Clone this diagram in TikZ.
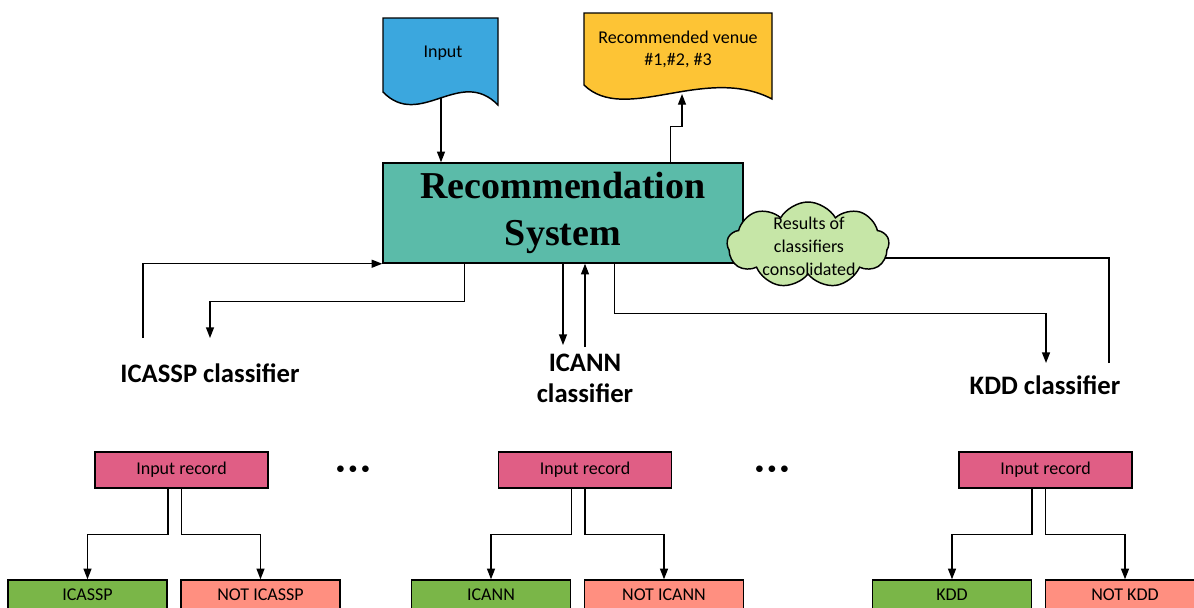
\documentclass[tikz,border=0pt]{standalone}
\usepackage{fontspec}
\setmainfont{Carlito}
\newfontfamily\titlefont{Liberation Serif}
\usetikzlibrary{arrows.meta,calc,shapes.symbols}
\newlength\upx
\setlength\upx{0.75pt}
\definecolor{cblue}{HTML}{3BA7DE}
\definecolor{cyellow}{HTML}{FDC435}
\definecolor{cteal}{HTML}{5BBBA9}
\definecolor{ccloud}{HTML}{C6E6A7}
\definecolor{cpink}{HTML}{E05E85}
\definecolor{cgreen}{HTML}{7AB648}
\definecolor{csalmon}{HTML}{FF8F80}
\begin{document}
\begin{tikzpicture}[x=0.75pt,y=-0.75pt,
  arr/.style={line width=1pt,-{Triangle[length=8pt,width=6pt]}},
  ln/.style={line width=1pt},
  border/.style={draw=black,line width=1.1pt},
  small/.style={font=\fontsize{13.5}{16.5}\selectfont},
  box/.style={border,small,inner sep=0pt},
  irbox/.style={box,fill=cpink,minimum width=173\upx,minimum height=36\upx},
  yesbox/.style={box,fill=cgreen,minimum width=159\upx,minimum height=30\upx},
  nobox/.style={box,fill=csalmon,minimum width=159\upx,minimum height=30\upx},
  lab/.style={font=\fontsize{20}{23.25}\selectfont\bfseries,align=center,inner sep=0pt},
  txt/.style={small,align=center,inner sep=0pt},
  dots/.style={font=\fontsize{14}{14}\selectfont,inner sep=0pt}]
\clip (0,0) rectangle (1194,607);
\fill[white] (0,0) rectangle (1194,607);

% documents
\draw[border,fill=cblue] (383,18) -- (498,18) -- (498,105)
  .. controls (460,66) and (420,130) .. (383,92) -- cycle;
\node[txt] (inp) at (443,53) {Input};
\coordinate (inpb) at (441,98);

\draw[border,fill=cyellow] (584,13) -- (772,13) -- (772,99)
  .. controls (705,64) and (625,125) .. (584,85) -- cycle;
\node[txt] (ven) at (678,49) {Recommended venue\\\#1,\#2, \#3};
\coordinate (venb) at (682,94);

% main box
\node[border,fill=cteal,minimum width=360\upx,minimum height=100\upx,inner sep=0pt,
  align=center,font=\titlefont\bfseries\fontsize{28.5}{35}\selectfont] (rs) at (563,213)
  {Recommendation\\System};

% classifier labels
\node[lab] (icl) at (210,373) {ICASSP classifier};
\node[lab] (cnl) at (585,378.5) {ICANN\\classifier};
\node[lab] (kdl) at (1045,385) {KDD classifier};

\coordinate (icout) at (143,338);
\coordinate (icin) at (210,338);
\coordinate (cnin) at (563,345);
\coordinate (cnout) at (585,347);
\coordinate (kin) at (1046,363);
\coordinate (kout) at (1109,363);

% connectors top
\draw[arr] (inpb) -- (inpb |- rs.north);
\draw[arr] ($(rs.north west)+(288,0)$) -- ++(0,-36) -| (venb);
\draw[arr] (icout) |- (rs.south west);
\draw[arr] ($(rs.south west)+(82,0)$) -- ++(0,38) -| (icin);
\draw[arr] (rs.south -| cnin) -- (cnin);
\draw[arr] (cnout) -- (cnout |- rs.south);
\draw[arr] ($(rs.south west)+(232,0)$) -- ++(0,50) -| (kin);

% cloud
\draw[ln] (kout) |- (808,258);
\node[cloud,cloud puffs=9,cloud puff arc=120,cloud ignores aspect,border,fill=ccloud,
  minimum width=162\upx,minimum height=86\upx,inner sep=0pt] (cl) at (808,245) {};
\node[txt,font=\fontsize{13.5}{17.25}\selectfont] (clt) at (809,246) {Results of\\classifiers\\consolidated};

% bottom trees
\node[irbox] (ir1) at (181.5,470) {Input record};
\node[irbox] (ir2) at (585,470) {Input record};
\node[irbox] (ir3) at (1045.5,470) {Input record};
\node[yesbox] (y1) at (87.5,595) {ICASSP};
\node[nobox] (n1) at (260.5,595) {NOT ICASSP};
\node[yesbox] (y2) at (491,595) {ICANN};
\node[nobox] (n2) at (664,595) {NOT ICANN};
\node[yesbox] (y3) at (952,595) {KDD};
\node[nobox] (n3) at (1125,595) {NOT KDD};

\foreach \i in {1,2,3}{
  \draw[arr] ($(ir\i.south)+(-13.5,0)$) -- ++(0,46) -| (y\i.north);
  \draw[arr] (ir\i.south) -- ++(0,46) -| (n\i.north);
}

\node[dots] (d1) at (353,470) {\textbullet\,\textbullet\,\textbullet};
\node[dots] (d2) at (772,470) {\textbullet\,\textbullet\,\textbullet};
\end{tikzpicture}
\end{document}
